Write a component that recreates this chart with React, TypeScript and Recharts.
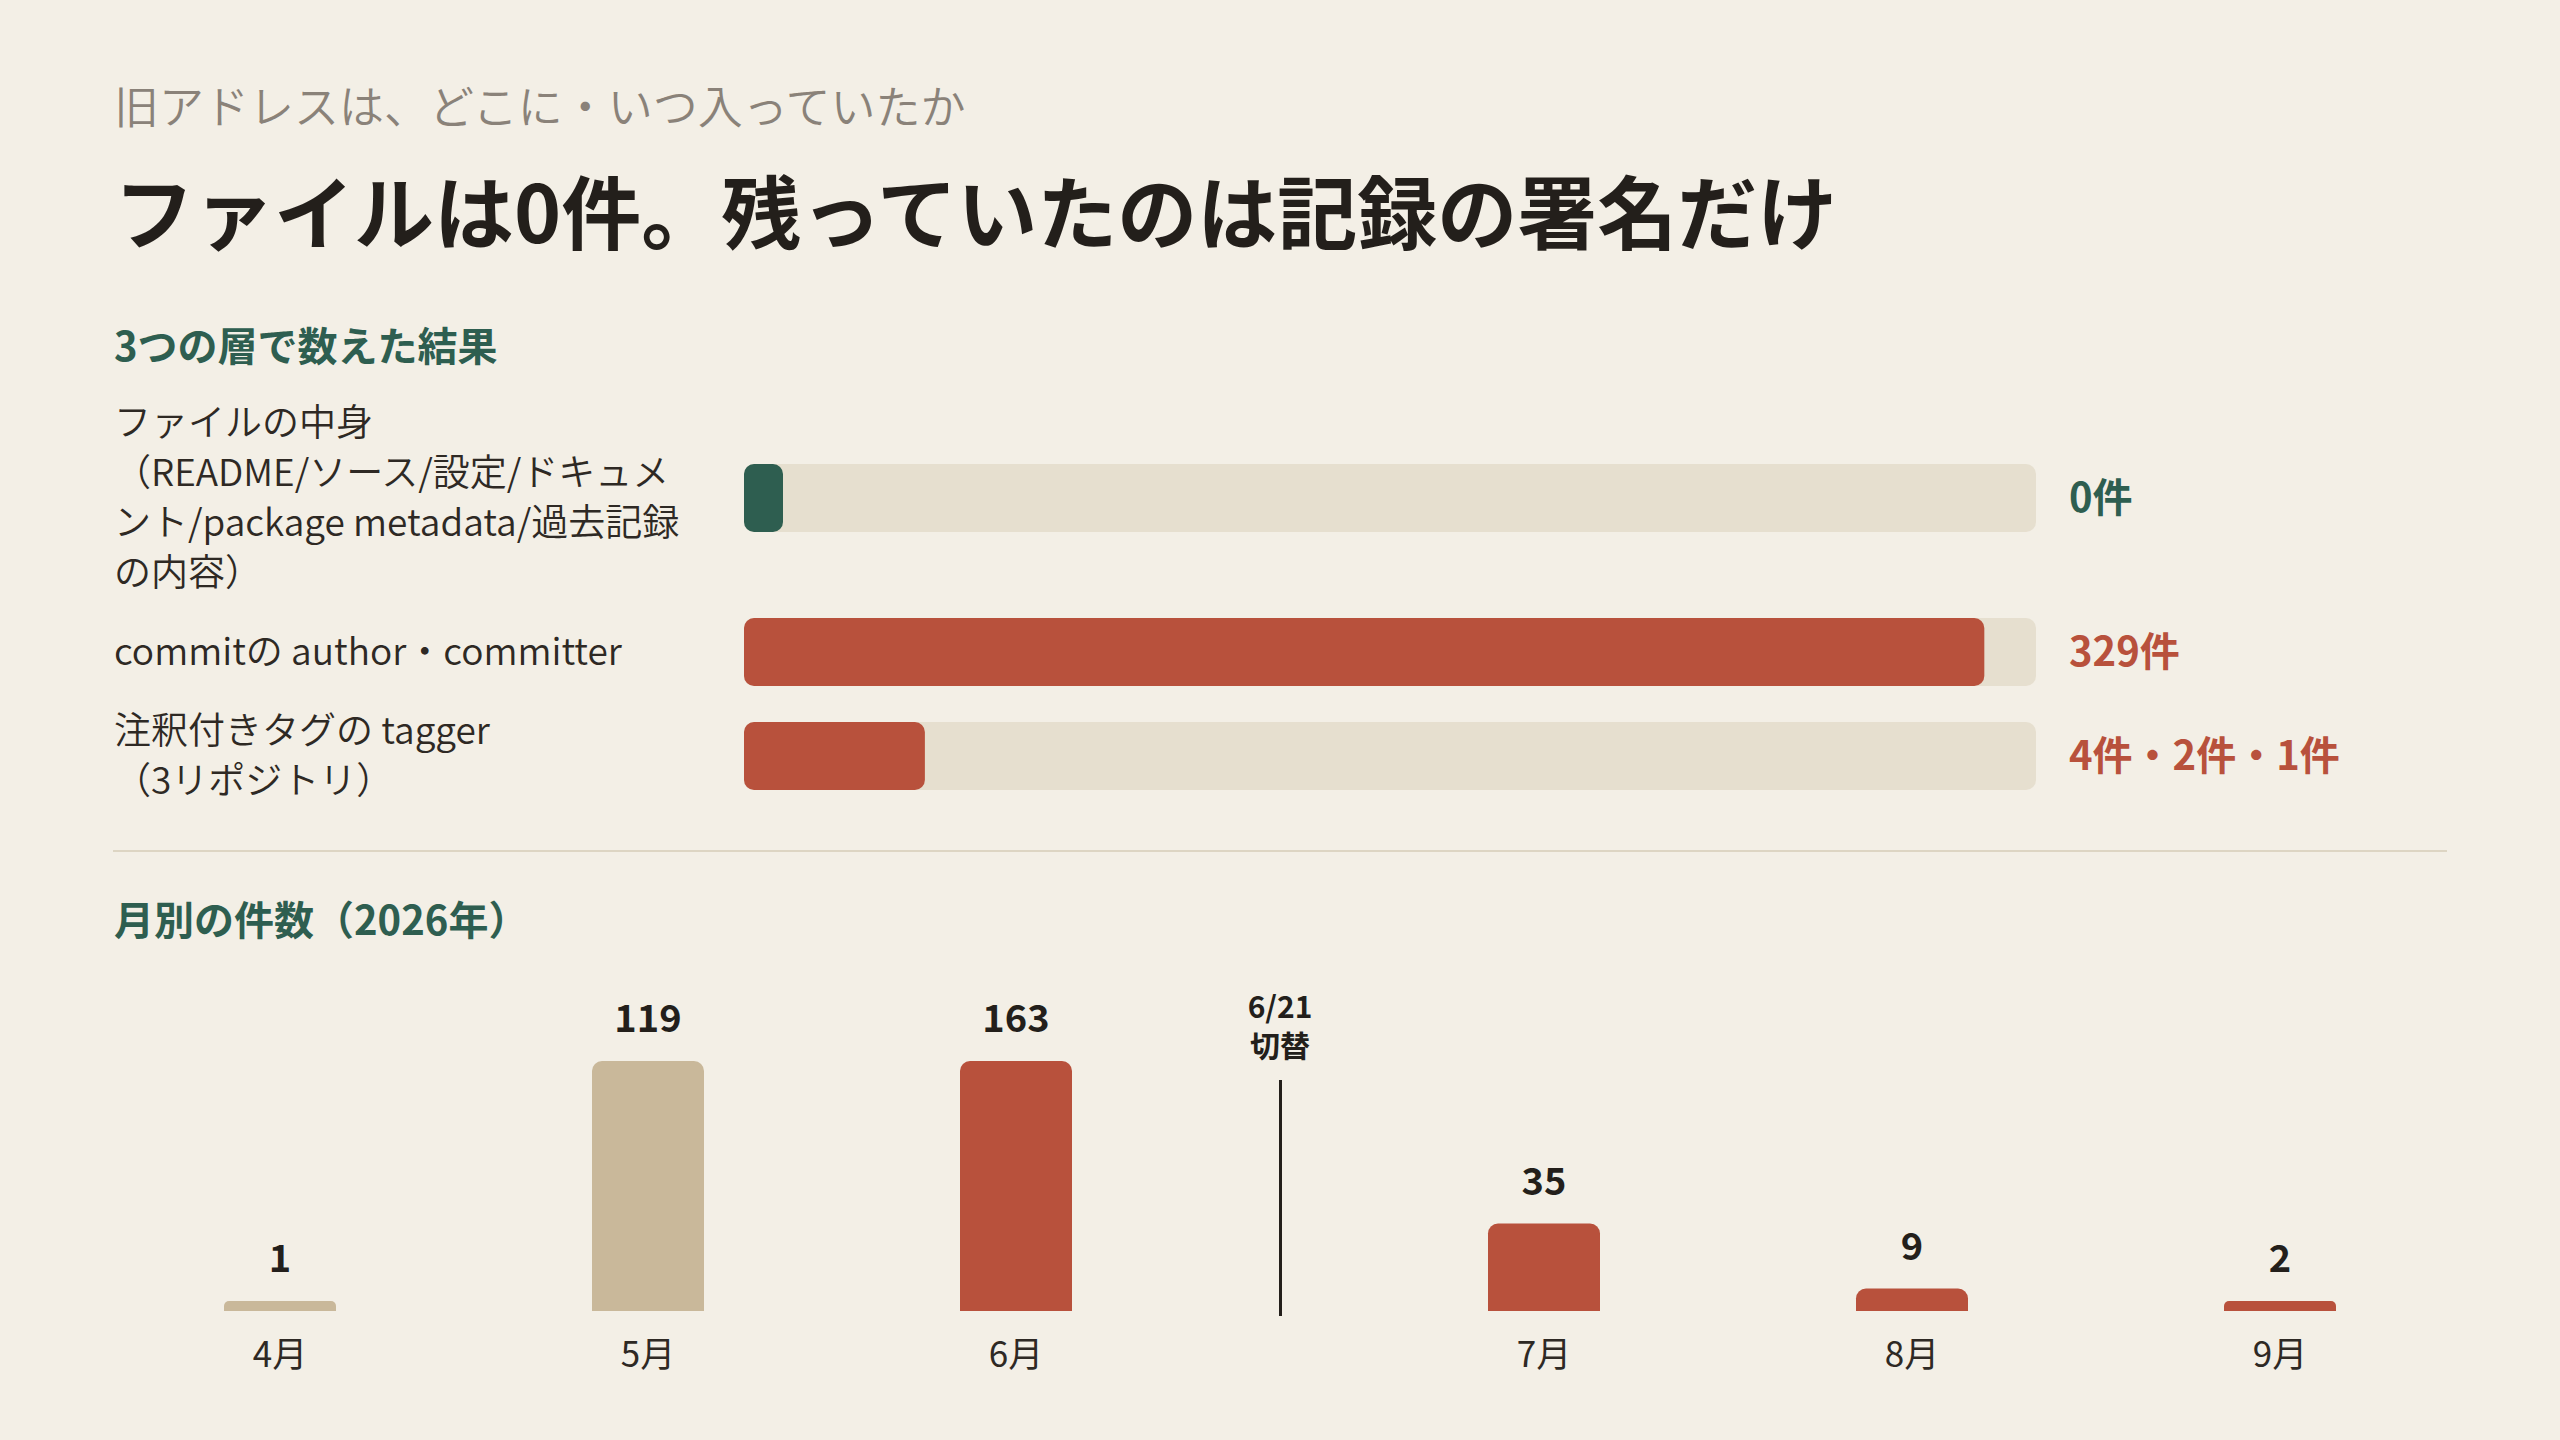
import { Bar, BarChart, Cell, LabelList, XAxis, YAxis } from 'recharts';

const FONT = "'Noto Sans CJK JP', 'Noto Sans', sans-serif";
const LIGHT_FONT = "'Noto Sans CJK JP DemiLight', 'Noto Sans CJK JP Light', 'Noto Sans CJK JP', 'Noto Sans', sans-serif";
const BG = '#f3efe6';
const INK = '#231f1b';
const TEXT = '#2e2924';
const MUTED = '#8a8279';
const GREEN = '#2e5e50';
const RED = '#b8513c';
const SAND = '#c9b89a';
const TRACK = '#e6dfcf';
const RULE = '#ddd5c3';

// 3つの層
const layerKeys = ['contents', 'commit', 'tagger'];
const layerLabels = [
  ['ファイルの中身', '（README/ソース/設定/ドキュメ', 'ント/package metadata/過去記録', 'の内容）'],
  ['commitの author・committer'],
  ['注釈付きタグの tagger', '（3リポジトリ）'],
];
const layerCountLabels = ['0件', '329件', '4件・2件・1件'];
// bar length as a share of the track
const layerShares = [0, 96, 14];
const layerKinds = ['file', 'signature', 'signature'];

// 月別
const months = ['4月', '5月', '6月', '7月', '8月', '9月'];
const monthCounts = [1, 119, 163, 35, 9, 2];
const monthPeriods = ['old', 'old', 'new', 'new', 'new', 'new'];
const switchLines = ['6/21', '切替'];
const switchAfter = 3; // months before the split
const MONTH_CAP = 100; // bars stop growing past this

const KIND_COLOR: Record<string, string> = { file: GREEN, signature: RED };
const PERIOD_COLOR: Record<string, string> = { old: SAND, new: RED };

const monthRows = months.map((month, i) => ({
  month,
  count: monthCounts[i],
  period: monthPeriods[i],
}));

function LayerBar({ index }: { index: number }) {
  const data = [{ key: layerKeys[index], share: layerShares[index] }];
  const color = KIND_COLOR[layerKinds[index]];
  return (
    <BarChart
      width={1292}
      height={70}
      data={data}
      layout="vertical"
      barCategoryGap={0}
      margin={{ top: 0, right: 0, bottom: 0, left: 0 }}
    >
      <XAxis type="number" domain={[0, 100]} hide />
      <YAxis type="category" dataKey="key" hide />
      <Bar
        dataKey="share"
        fill={color}
        barSize={68}
        radius={10}
        minPointSize={39}
        background={{ fill: TRACK, radius: 10 }}
        isAnimationActive={false}
      />
    </BarChart>
  );
}

function MonthChart({ rows }: { rows: typeof monthRows }) {
  return (
    <BarChart
      width={1104}
      height={430}
      data={rows}
      margin={{ top: 100, right: 0, bottom: 0, left: 0 }}
    >
      <XAxis
        dataKey="month"
        axisLine={false}
        tickLine={false}
        interval={0}
        height={80}
        tickMargin={25}
        tick={{ fill: TEXT, fontSize: 35 }}
      />
      <YAxis hide domain={[0, MONTH_CAP]} />
      <Bar
        dataKey={(d: { count: number }) => Math.min(d.count, MONTH_CAP)}
        barSize={112}
        minPointSize={10}
        radius={[10, 10, 0, 0]}
        isAnimationActive={false}
      >
        {rows.map((r) => (
          <Cell key={r.month} fill={PERIOD_COLOR[r.period]} />
        ))}
        <LabelList
          dataKey="count"
          position="top"
          offset={29}
          fill={INK}
          fontSize={38}
          fontWeight={700}
        />
      </Bar>
    </BarChart>
  );
}

export default function App() {
  return (
    <div
      style={{
        position: 'absolute',
        left: 0,
        top: 0,
        width: 2560,
        height: 1440,
        background: BG,
        fontFamily: FONT,
        color: TEXT,
        overflow: 'hidden',
      }}
    >
      <div
        style={{
          position: 'absolute',
          left: 114,
          top: 78,
          fontSize: 45,
          lineHeight: '54px',
          fontFamily: LIGHT_FONT,
          fontWeight: 300,
          color: MUTED,
          whiteSpace: 'nowrap',
        }}
      >
        旧アドレスは、どこに・いつ入っていたか
      </div>
      <div
        style={{
          position: 'absolute',
          left: 114,
          top: 160,
          fontSize: 80,
          lineHeight: '96px',
          fontWeight: 700,
          color: INK,
          whiteSpace: 'nowrap',
        }}
      >
        ファイルは0件。残っていたのは記録の署名だけ
      </div>

      <div
        style={{
          position: 'absolute',
          left: 114,
          top: 320,
          fontSize: 40,
          lineHeight: '48px',
          fontWeight: 700,
          color: GREEN,
          whiteSpace: 'nowrap',
        }}
      >
        3つの層で数えた結果
      </div>

      <div
        style={{
          position: 'absolute',
          left: 114,
          top: 398,
          display: 'flex',
          flexDirection: 'column',
          gap: 19,
        }}
      >
        {layerKeys.map((key, i) => (
          <div key={key} style={{ display: 'flex', alignItems: 'center' }}>
            <div
              style={{
                width: 630,
                fontSize: 37,
                lineHeight: '50px',
                whiteSpace: 'nowrap',
                fontFamily: LIGHT_FONT,
                color: TEXT,
                transform: 'translateY(-3px)',
              }}
            >
              {layerLabels[i].map((line) => (
                <div key={line}>{line}</div>
              ))}
            </div>
            <LayerBar index={i} />
            <div
              style={{
                marginLeft: 33,
                fontSize: 40,
                fontWeight: 700,
                whiteSpace: 'nowrap',
                color: KIND_COLOR[layerKinds[i]],
                transform: 'translateY(-3px)',
              }}
            >
              {layerCountLabels[i]}
            </div>
          </div>
        ))}
      </div>

      <div
        style={{
          position: 'absolute',
          left: 113,
          top: 850,
          width: 2334,
          height: 2,
          background: RULE,
        }}
      />

      <div
        style={{
          position: 'absolute',
          left: 114,
          top: 894,
          fontSize: 40,
          lineHeight: '48px',
          fontWeight: 700,
          color: GREEN,
          whiteSpace: 'nowrap',
        }}
      >
        月別の件数（2026年）
      </div>

      <div style={{ position: 'absolute', left: 96, top: 961 }}>
        <MonthChart rows={monthRows.slice(0, switchAfter)} />
      </div>
      <div style={{ position: 'absolute', left: 1360, top: 961 }}>
        <MonthChart rows={monthRows.slice(switchAfter)} />
      </div>

      <div
        style={{
          position: 'absolute',
          left: 1180,
          top: 986,
          width: 200,
          textAlign: 'center',
          fontSize: 30,
          lineHeight: '39px',
          fontWeight: 700,
          color: INK,
        }}
      >
        {switchLines.map((line) => (
          <div key={line}>{line}</div>
        ))}
      </div>
      <div
        style={{
          position: 'absolute',
          left: 1279,
          top: 1080,
          width: 3,
          height: 236,
          background: INK,
        }}
      />
    </div>
  );
}
